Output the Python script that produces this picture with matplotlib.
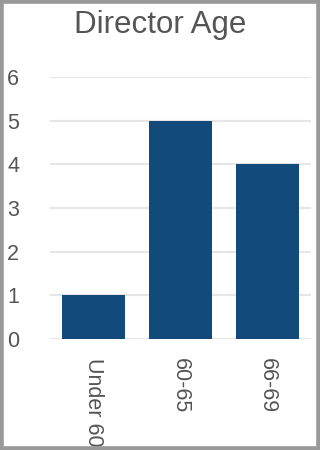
import matplotlib
matplotlib.use("Agg")
import matplotlib.pyplot as plt
from matplotlib.patches import Rectangle

categories = ["Under 60", "60-65", "66-69"]
values = [1, 5, 4]
yticks = [0, 1, 2, 3, 4, 5, 6]

plt.rcParams['font.family'] = ['Liberation Sans', 'DejaVu Sans']

fig = plt.figure(figsize=(3.2, 4.5), dpi=100)
ax = fig.add_axes([50/320, 1 - 339/450, 261/320, (339 - 77)/450])

ax.bar(range(len(categories)), values, width=0.72, color='#134a7c', zorder=3)
ax.set_xlim(-0.5, len(categories) - 0.5)
ax.set_ylim(0, 6)
ax.set_yticks(yticks)
ax.set_yticklabels([str(t) for t in yticks], fontsize=15.5, color='#555555', ha='left')
ax.tick_params(axis='y', length=0, pad=43 * 0.72)
ax.set_xticks(range(len(categories)))
ax.set_xticklabels(categories, rotation=270, fontsize=15.5, color='#555555', va='top', ha='center')
ax.tick_params(axis='x', length=0, pad=14)
ax.grid(axis='y', color='#e6e6e6', linewidth=1.5, zorder=0)
for s in ax.spines.values():
    s.set_visible(False)

fig.text(160/320, 1 - 33/450, "Director Age", fontsize=22.5, color='#555555', ha='center', va='baseline')

fig.patches.append(Rectangle((0, 0), 1, 1, transform=fig.transFigure, fill=False,
                             edgecolor='#999999', linewidth=5.5, zorder=10))

fig.savefig("out.png", dpi=100)
